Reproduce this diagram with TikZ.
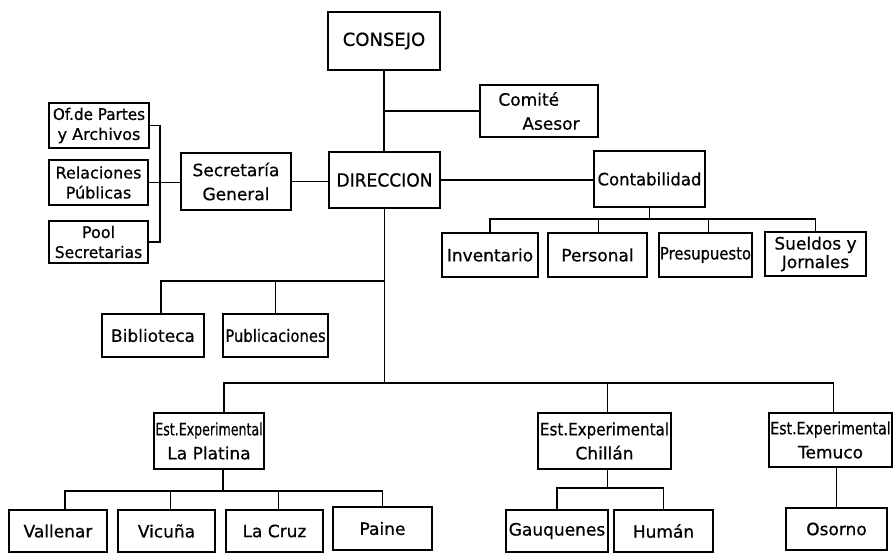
\documentclass[tikz,border=0pt]{standalone}
\usepackage{fontspec}
\setmainfont{DejaVu Sans}
\newfontfamily\lett{DejaVu Sans}[FakeBold=0.6]
\usepackage{graphicx}
\tikzset{
  box/.style={draw, line width=1.3pt, inner sep=0pt, outer sep=0pt, align=center,
    font=\lett\fontsize{17}{24}\selectfont},
  big/.style={font=\lett\fontsize{18}{24}\selectfont},
  small/.style={font=\lett\fontsize{16}{20}\selectfont},
  tight/.style={font=\lett\fontsize{17}{18.5}\selectfont},
  link/.style={line width=1.3pt},
}
\newcommand\sx[2]{\scalebox{#1}[1]{#2}}
\newcommand\mkbox[7][]{\node[box,#1,minimum width={(#5-#3)*1pt},minimum height={(#6-#4)*1pt}] (#2) at ({(#3+#5)/2},{(#4+#6)/2}) {#7};}
\begin{document}
\begin{tikzpicture}[x=1pt,y=-1pt]
\fill[white] (0,0) rectangle (893,554);
\useasboundingbox (0,0) rectangle (893,554);
% top
\mkbox[big]{cons}{328}{12}{440}{70}{CONSEJO}
\mkbox[align=left]{com}{480}{85}{598}{137}{Comité\\\hspace*{24pt}Asesor}
\mkbox[big]{dir}{329}{152}{440}{208}{\sx{0.95}{DIRECCION}}
\mkbox{cont}{594}{151}{705}{207}{\sx{0.97}{Contabilidad}}
\mkbox{inv}{442}{233}{538}{277}{Inventario}
\mkbox{pers}{548}{233}{647}{277}{Personal}
\mkbox{pres}{659}{233}{752}{277}{\sx{0.87}{Presupuesto}}
\mkbox[tight]{sue}{765}{232}{866}{276}{Sueldos y\\Jornales}
\mkbox{sec}{181}{153}{291}{210}{Secretaría\\General}
\mkbox[small]{of}{49}{103}{149}{148}{\sx{0.95}{Of.de Partes}\\y Archivos}
\mkbox[small]{rel}{49}{160}{148}{205}{Relaciones\\Públicas}
\mkbox[small]{pool}{49}{221}{148}{263}{Pool\\\sx{0.97}{Secretarias}}
\mkbox{bib}{102}{314}{204}{357}{Biblioteca}
\mkbox{pub}{223}{314}{328}{357}{\sx{0.87}{Publicaciones}}
% stations
\mkbox{plat}{154}{413}{264}{469}{\sx{0.74}{Est.Experimental}\\La Platina}
\mkbox{chil}{538}{413}{671}{469}{\sx{0.89}{Est.Experimental}\\Chillán}
\mkbox{tem}{769}{413}{892}{467}{\sx{0.83}{Est.Experimental}\\Temuco}
\mkbox{val}{9}{510}{107}{552}{Vallenar}
\mkbox{vic}{118}{510}{215}{552}{Vicuña}
\mkbox{lac}{226}{510}{323}{552}{La Cruz}
\mkbox{pai}{333}{507}{432}{550}{Paine}
\mkbox{gau}{506}{510}{608}{552}{Gauquenes}
\mkbox{hum}{614}{510}{713}{552}{Humán}
\mkbox{oso}{786}{508}{887}{550}{Osorno}
% bus coordinates
\coordinate (bk) at (160,181);
\coordinate (cb) at (0,219);
\coordinate (mb) at (0,281);
\coordinate (bb) at (0,383);
\coordinate (pb) at (0,491);
\coordinate (gb) at (0,488);
% connectors
\draw[link] (cons.south) -- (cons.south |- dir.north);
\draw[link] (cons.south |- com.west) -- (com.west);
\draw[link] (sec.east) -- (sec.east -| dir.west);
\draw[link] (dir.east) -- (dir.east -| cont.west);
\draw[link] (of.east) -| (bk) |- (pool.east);
\draw[link] (rel.east) -- (rel.east -| sec.west);
\draw[link] (cont.south) -- (cont.south |- cb);
\draw[link] (inv.north) |- (sue.north |- cb) -- (sue.north);
\draw[link] ([xshift=1pt]pers.north) -- ([xshift=1pt]pers.north |- cb);
\draw[link] ([xshift=3pt]pres.north) -- ([xshift=3pt]pres.north |- cb);
\draw[link] (dir.south) -- (dir.south |- bb);
\draw[link] ([xshift=8pt]bib.north) |- (dir.south |- mb);
\draw[link] (pub.north) -- (pub.north |- mb);
\draw[link] ([xshift=15pt]plat.north) |- ([xshift=3pt]tem.north |- bb) -- ([xshift=3pt]tem.north);
\draw[link] ([xshift=3pt]chil.north) -- ([xshift=3pt]chil.north |- bb);
\draw[link] ([xshift=14pt]plat.south) -- ([xshift=14pt]plat.south |- pb);
\draw[link] ([xshift=7pt]val.north) |- (pai.north |- pb) -- (pai.north);
\draw[link] ([xshift=4pt]vic.north) -- ([xshift=4pt]vic.north |- pb);
\draw[link] ([xshift=4pt]lac.north) -- ([xshift=4pt]lac.north |- pb);
\draw[link] ([xshift=3pt]chil.south) -- ([xshift=3pt]chil.south |- gb);
\draw[link] (gau.north) |- (hum.north |- gb) -- (hum.north);
\draw[link] (oso.north) -- (oso.north |- tem.south);
\end{tikzpicture}
\end{document}
